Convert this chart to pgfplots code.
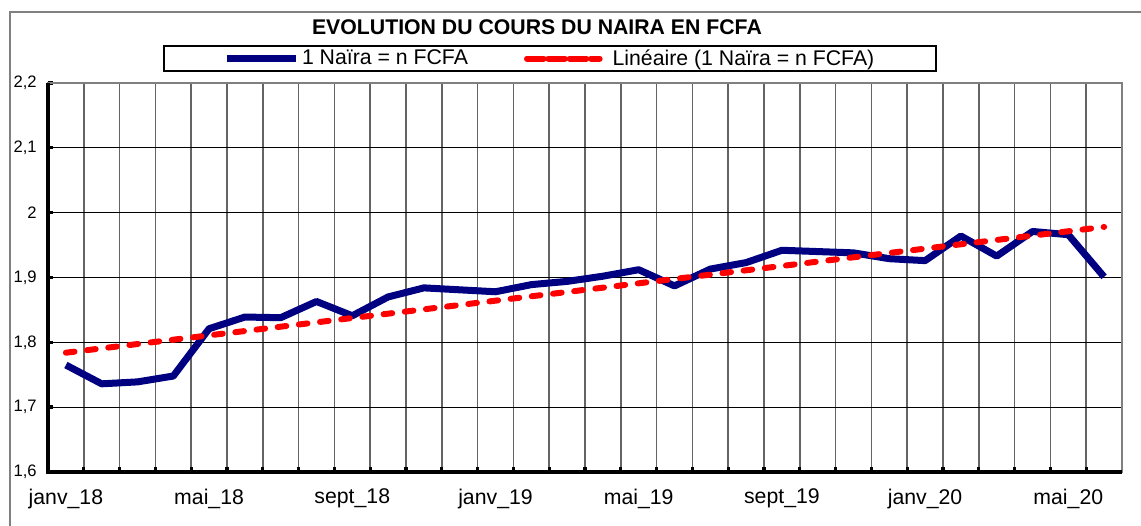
\documentclass[border=0pt]{standalone}
\usepackage{pgfplots}
\pgfplotsset{compat=1.18}
\usepackage{fontspec}
\setmainfont{Liberation Sans}
\definecolor{navyline}{RGB}{0,0,128}
\definecolor{gridgray}{RGB}{100,100,100}
\definecolor{framegray}{RGB}{128,128,128}
\pgfplotsset{redlegend/.style={legend image code/.code={\draw[##1] (6bp,0bp) -- (52bp,0bp); \path (0bp,0bp) -- (60bp,0bp);}}}
\begin{document}
\begin{tikzpicture}
\useasboundingbox (-36bp,-40.5bp) rectangle (819.75bp,354bp);
\draw[framegray, line width=1.5bp] (-28.5bp,-45bp) -- (-28.5bp,345bp) -- (830bp,345bp);
\begin{axis}[
  at={(0,0)}, anchor=south west,
  scale only axis, width=805.5bp, height=291.75bp,
  xmin=-0.5, xmax=29.5, ymin=1.6, ymax=2.2,
  xtick={0,4,8,12,16,20,24,28},
  xticklabels={janv\_18,mai\_18,sept\_18,janv\_19,mai\_19,sept\_19,janv\_20,mai\_20},
  minor xtick={0.5,1.5,...,28.5},
  ytick={1.6,1.7,1.8,1.9,2.0,2.1,2.2},
  xminorgrids=true, ymajorgrids=true,
  minor x grid style={gridgray, line width=1.1bp},
  major y grid style={black, line width=0.8bp},
  axis line style={draw=framegray, line width=2bp},
  tick pos=left, tick align=inside,
  major tick length=4bp, minor tick length=4bp,
  tick style={black, line width=2.5bp},
  every major x tick/.style={draw=none},
  xticklabel style={font=\fontsize{16}{19}\selectfont, yshift=-9bp},
  yticklabel style={font=\fontsize{12.5}{15}\selectfont, xshift=-5bp, /pgf/number format/.cd, use comma, fixed, precision=1, assume math mode=true},
  title={\bfseries EVOLUTION DU COURS DU NAIRA EN FCFA},
  title style={at={(0.4553,1.1234)}, anchor=center, font=\fontsize{16}{19}\selectfont},
  legend columns=2,
  legend style={at={(0.4674,1.0629)}, anchor=center, draw=black, line width=1.5bp,
    font=\fontsize{16}{19}\selectfont, inner xsep=44bp, inner ysep=1bp,
    /tikz/every even column/.append style={column sep=40bp}},
  legend image code/.code={\draw[#1] (0bp,0bp) -- (52bp,0bp);},
  after end axis/.code={
    \draw[black, line width=3bp] (rel axis cs:0,1) -- (rel axis cs:0,0) -- (rel axis cs:1,0);
  },
]
\addplot[navyline, line width=5.25bp, line join=round] coordinates {
(0,1.765) (1,1.736) (2,1.739) (3,1.748) (4,1.821) (5,1.839) (6,1.838) (7,1.863)
(8,1.841) (9,1.870) (10,1.884) (11,1.881) (12,1.878) (13,1.889) (14,1.894)
(15,1.902) (16,1.912) (17,1.887) (18,1.913) (19,1.923) (20,1.942) (21,1.940)
(22,1.938) (23,1.929) (24,1.926) (25,1.964) (26,1.933) (27,1.971) (28,1.966) (29,1.901)
};
\addlegendentry{1 Naïra = n FCFA}
\addplot[red, line width=4.5bp, line cap=round, dash pattern=on 6.5bp off 9.5bp, redlegend] coordinates {
(0,1.784) (29,1.978)
};
\addlegendentry{Linéaire (1 Naïra = n FCFA)}
\end{axis}
\end{tikzpicture}
\end{document}
